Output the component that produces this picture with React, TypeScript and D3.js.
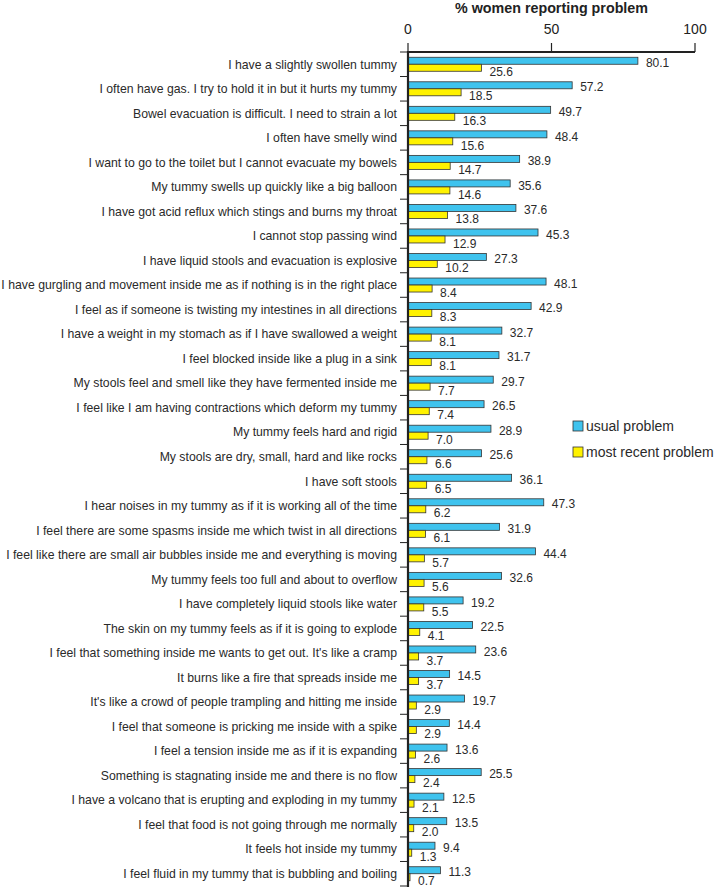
import React from "react";
import * as d3 from "d3";

const categories: string[] = [
  "I have a slightly swollen tummy",
  "I often have gas. I try to hold it in but it hurts my tummy",
  "Bowel evacuation is difficult. I need to strain a lot",
  "I often have smelly wind",
  "I want to go to the toilet but I cannot evacuate my bowels",
  "My tummy swells up quickly like a big balloon",
  "I have got acid reflux which stings and burns my throat",
  "I cannot stop passing wind",
  "I have liquid stools and evacuation is explosive",
  "I have gurgling and movement inside me as if nothing is in the right place",
  "I feel as if someone is twisting my intestines in all directions",
  "I have a weight in my stomach as if I have swallowed a weight",
  "I feel blocked inside like a plug in a sink",
  "My stools feel and smell like they have fermented inside me",
  "I feel like I am having contractions which deform my tummy",
  "My tummy feels hard and rigid",
  "My stools are dry, small, hard and like rocks",
  "I have soft stools",
  "I hear noises in my tummy as if it is working all of the time",
  "I feel there are some spasms inside me which twist in all directions",
  "I feel like there are small air bubbles inside me and everything is moving",
  "My tummy feels too full and about to overflow",
  "I have completely liquid stools like water",
  "The skin on my tummy feels as if it is going to explode",
  "I feel that something inside me wants to get out. It's like a cramp",
  "It burns like a fire that spreads inside me",
  "It's like a crowd of people trampling and hitting me inside",
  "I feel that someone is pricking me inside with a spike",
  "I feel a tension inside me as if it is expanding",
  "Something is stagnating inside me and there is no flow",
  "I have a volcano that is erupting and exploding in my tummy",
  "I feel that food is not going through me normally",
  "It feels hot inside my tummy",
  "I feel fluid in my tummy that is bubbling and boiling",
];

const usualProblem: number[] = [
  80.1, 57.2, 49.7, 48.4, 38.9, 35.6, 37.6, 45.3, 27.3, 48.1, 42.9, 32.7, 31.7,
  29.7, 26.5, 28.9, 25.6, 36.1, 47.3, 31.9, 44.4, 32.6, 19.2, 22.5, 23.6, 14.5,
  19.7, 14.4, 13.6, 25.5, 12.5, 13.5, 9.4, 11.3,
];

const recentProblem: number[] = [
  25.6, 18.5, 16.3, 15.6, 14.7, 14.6, 13.8, 12.9, 10.2, 8.4, 8.3, 8.1, 8.1, 7.7,
  7.4, 7.0, 6.6, 6.5, 6.2, 6.1, 5.7, 5.6, 5.5, 4.1, 3.7, 3.7, 2.9, 2.9, 2.6, 2.4,
  2.1, 2.0, 1.3, 0.7,
];

const xTicks: number[] = [0, 50, 100];
const seriesNames: string[] = ["usual problem", "most recent problem"];
const seriesColors: string[] = ["#3FC3EE", "#FFF200"];
const titleText = "% women reporting problem";

const W = 718;
const H = 889;
const FONT = "'Liberation Sans', Arial, Helvetica, sans-serif";

export default function App() {
  const x = d3.scaleLinear().domain([0, 100]).range([408, 695]);
  const y = d3
    .scaleBand<string>()
    .domain(categories)
    .range([52, 886])
    .paddingInner(0)
    .paddingOuter(0);
  const bw = y.bandwidth();
  const barH = 7;
  const x0 = x(0);

  return (
    <svg
      width={W}
      height={H}
      style={{ position: "absolute", left: 0, top: 0, background: "#fff" }}
      fontFamily={FONT}
    >
      <rect x={0} y={0} width={W} height={H} fill="#fff" />
      {/* title */}
      <text
        x={x(50)}
        y={13}
        textAnchor="middle"
        fontSize={14.3}
        fontWeight="bold"
        fill="#222"
      >
        {titleText}
      </text>
      {/* top axis */}
      {xTicks.map((t) => (
        <g key={t}>
          <line x1={x(t)} x2={x(t)} y1={43} y2={52} stroke="#222" strokeWidth={1.2} />
          <text x={x(t)} y={34} textAnchor="middle" fontSize={14} fill="#222">
            {t}
          </text>
        </g>
      ))}
      {/* bars */}
      {categories.map((c, i) => {
        const y0 = (y(c) as number) + bw / 2 - barH;
        return (
          <g key={c}>
            <text
              x={397}
              y={(y(c) as number) + bw / 2}
              dy="0.35em"
              textAnchor="end"
              fontSize={12.25}
              fill="#2a2a2a"
            >
              {c}
            </text>
            <rect
              x={x0}
              y={y0}
              width={x(usualProblem[i]) - x0}
              height={barH}
              fill={seriesColors[0]}
              stroke="#333"
              strokeWidth={0.8}
            />
            <rect
              x={x0}
              y={y0 + barH}
              width={x(recentProblem[i]) - x0}
              height={barH}
              fill={seriesColors[1]}
              stroke="#333"
              strokeWidth={0.8}
            />
            <text
              x={x(usualProblem[i]) + 8}
              y={y0 + barH / 2 + 2}
              dy="0.35em"
              fontSize={12}
              fill="#2a2a2a"
            >
              {usualProblem[i].toFixed(1)}
            </text>
            <text
              x={x(recentProblem[i]) + 8}
              y={y0 + barH * 1.5 + 4}
              dy="0.35em"
              fontSize={12}
              fill="#2a2a2a"
            >
              {recentProblem[i].toFixed(1)}
            </text>
          </g>
        );
      })}
      {/* left axis ticks */}
      {d3.range(categories.length + 1).map((k) => {
        const yy = 52 + k * bw;
        return (
          <line key={k} x1={400} x2={x0} y1={yy} y2={yy} stroke="#222" strokeWidth={1} />
        );
      })}
      <line x1={x0} x2={x0} y1={51} y2={887} stroke="#222" strokeWidth={2.2} />
      <line x1={x0 - 1} x2={x(100)} y1={52} y2={52} stroke="#222" strokeWidth={2.2} />
      {/* legend */}
      {seriesNames.map((s, i) => (
        <g key={s}>
          <rect
            x={573}
            y={421 + i * 26}
            width={10}
            height={10}
            fill={seriesColors[i]}
            stroke="#333"
            strokeWidth={0.8}
          />
          <text x={586} y={426 + i * 26} dy="0.35em" fontSize={14} fill="#2a2a2a">
            {s}
          </text>
        </g>
      ))}
    </svg>
  );
}
